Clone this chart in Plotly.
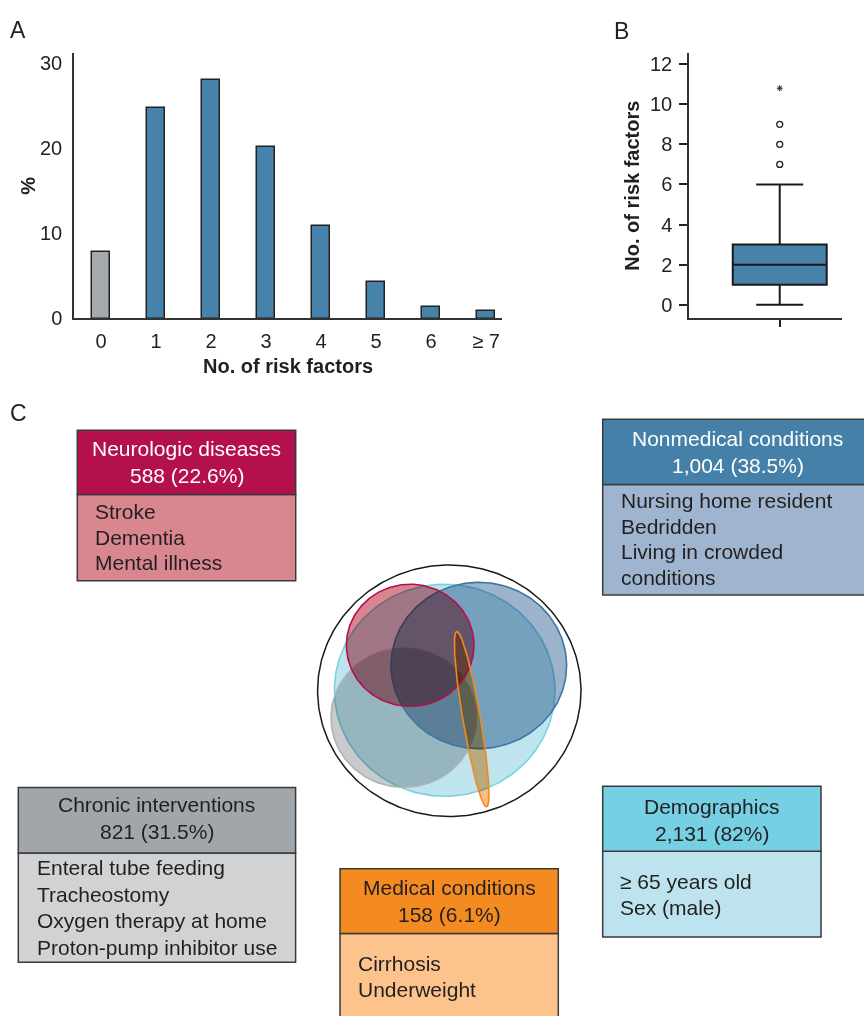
import numpy as np
import plotly.graph_objects as go

W, H = 864, 1016

# ---- Panel A: share of patients by number of risk factors ----
factor_labels = ["0", "1", "2", "3", "4", "5", "6", "≥ 7"]
factor_pct = [7.8, 24.7, 28.0, 20.2, 10.9, 4.3, 1.4, 0.9]

# ---- Panel B: number of risk factors per patient (box summary) ----
box_q1, box_median, box_q3 = 1, 2, 3
box_low, box_high = 0, 6
outlier_values = [7, 8, 9]
extreme_values = [10.8]

# ---- Panel C: risk factor groups ----
group_names = ["Neurologic diseases", "Nonmedical conditions", "Chronic interventions",
               "Medical conditions", "Demographics"]
group_counts = [588, 1004, 821, 158, 2131]
group_pcts = ["22.6", "38.5", "31.5", "6.1", "82"]
group_items = [
    ["Stroke", "Dementia", "Mental illness"],
    ["Nursing home resident", "Bedridden", "Living in crowded", "conditions"],
    ["Enteral tube feeding", "Tracheostomy", "Oxygen therapy at home", "Proton-pump inhibitor use"],
    ["Cirrhosis", "Underweight"],
    ["≥ 65 years old", "Sex (male)"],
]

FONT = "Liberation Sans, Arial, Helvetica, sans-serif"
INK = "#231f20"
BAR_BLUE = "#4682aa"
BAR_GRAY = "#a3a9ad"

# vertical layout height used for converting pixel positions to paper fractions
H_LAYOUT = H * 0.99


def px(x):
    return x / W


def py(y):
    return 1 - y / H_LAYOUT


fig = go.Figure()

# Panel A bars
bar_colors = [BAR_GRAY] + [BAR_BLUE] * (len(factor_pct) - 1)
fig.add_trace(go.Bar(
    x=list(range(len(factor_pct))), y=factor_pct, width=0.33,
    marker=dict(color=bar_colors, line=dict(color="#222", width=1.5)),
    xaxis="x", yaxis="y", hoverinfo="skip", showlegend=False,
))

# Panel B box
fig.add_trace(go.Box(
    x=[0], q1=[box_q1], median=[box_median], q3=[box_q3],
    lowerfence=[box_low], upperfence=[box_high],
    width=0.614, whiskerwidth=0.5, boxpoints=False,
    fillcolor=BAR_BLUE, line=dict(color="#1a1a1a", width=2),
    xaxis="x2", yaxis="y2", hoverinfo="skip", showlegend=False,
))
fig.add_trace(go.Scatter(
    x=[0] * len(outlier_values), y=outlier_values, mode="markers",
    marker=dict(symbol="circle-open", size=6, color="#222", line=dict(width=1.3)),
    xaxis="x2", yaxis="y2", hoverinfo="skip", showlegend=False,
))
fig.add_trace(go.Scatter(
    x=[0] * len(extreme_values), y=extreme_values, mode="markers",
    marker=dict(symbol="asterisk-open", size=5, color="#222", line=dict(width=1)),
    xaxis="x2", yaxis="y2", hoverinfo="skip", showlegend=False,
))

# Panel C overlap diagram: (cx, cy, rx, ry, tilt deg, fill, line) in diagram units.
# Fills are blended with "multiply" so overlaps darken like overprinted inks.
venn_shapes = [
    (444.7, 690.5, 110.3, 106.2, 0, "rgb(190,229,238)", "#7dd0e3"),   # demographics
    (403.8, 718.0, 72.8, 69.7, 0, "rgb(201,202,204)", "#b0b2b4"),     # chronic interventions
    (478.8, 665.7, 87.8, 83.3, 0, "rgb(157,179,204)", "#3f77a0"),     # nonmedical
    (410.2, 645.5, 63.8, 61.2, 0, "rgb(217,132,142)", "#b5104e"),     # neurologic
    (471.7, 719.5, 8.8, 89.1, -9.7, "rgb(249,190,134)", "#f28a1e"),   # medical
]
t = np.linspace(0, 2 * np.pi, 241)
for cx, cy, rx, ry, ang, fillc, linec in venn_shapes:
    a = np.deg2rad(ang)
    ex = rx * np.cos(t)
    ey = ry * np.sin(t)
    xs = cx + ex * np.cos(a) - ey * np.sin(a)
    ys = cy + ex * np.sin(a) + ey * np.cos(a)
    fig.add_trace(go.Scatter(
        x=xs, y=ys, mode="lines", fill="toself", fillcolor=fillc,
        line=dict(color=linec, width=1.6), xaxis="x3", yaxis="y3",
        hoverinfo="skip", showlegend=False,
    ))
# enclosing outline (all patients)
fig.add_trace(go.Scatter(
    x=449.3 + 131.7 * np.cos(t), y=691.0 + 126.0 * np.sin(t), mode="lines",
    line=dict(color="#1a1a1a", width=1.5), xaxis="x3", yaxis="y3",
    hoverinfo="skip", showlegend=False,
))

annotations = []
shapes = []


def add_text(x, y, text, size=21, color=INK, anchor="center", bold=False):
    annotations.append(dict(
        x=px(x), y=py(y), xref="paper", yref="paper", text=f"<b>{text}</b>" if bold else text,
        showarrow=False, xanchor=anchor, yanchor="middle",
        font=dict(family=FONT, size=size, color=color),
    ))


# Panel letters and axis titles
add_text(18, 29, "A", size=23)
add_text(621, 30, "B", size=23)
add_text(18, 413, "C", size=23)
add_text(288, 366, "No. of risk factors", size=20, bold=True)
annotations.append(dict(x=px(28), y=py(185), xref="paper", yref="paper", text="<b>%</b>",
                        showarrow=False, textangle=-90, xanchor="center", yanchor="middle",
                        font=dict(family=FONT, size=20, color=INK)))
annotations.append(dict(x=px(632), y=py(185), xref="paper", yref="paper",
                        text="<b>No. of risk factors</b>", showarrow=False, textangle=-90,
                        xanchor="center", yanchor="middle",
                        font=dict(family=FONT, size=20, color=INK)))

# Group boxes: (left, right, top, divider, bottom, header fill, body fill, header text colour,
#               body text left, header line centres, first body line centre, body line step)
box_layout = [
    (77.3, 295.7, 430.0, 494.3, 580.7, "#b5104e", "#d9878f", "white", 92.7, (448.3, 475.0), 511.7, 25.5),
    (602.7, 872.3, 419.0, 484.3, 595.0, "#4480a8", "#9fb5cf", "white", 619.3, (438.3, 465.0), 500.7, 25.6),
    (18.3, 295.6, 788.0, 853.5, 963.0, "#a0a6aa", "#d0d2d4", INK, 35.0, (805.3, 832.5), 868.5, 26.5),
    (340.0, 558.3, 869.3, 934.3, 1040.0, "#f48b21", "#fcc48c", INK, 356.0, (888.3, 915.0), 964.0, 26.0),
    (602.7, 821.0, 786.7, 851.7, 937.7, "#76d0e4", "#bde4ee", INK, 618.3, (806.7, 834.3), 881.7, 26.6),
]
for i, (l, r, top, mid, bot, hfill, bfill, hcol, tx, hys, by0, step) in enumerate(box_layout):
    shapes.append(dict(type="rect", xref="paper", yref="paper", x0=px(l), x1=px(r),
                       y0=py(mid), y1=py(bot), fillcolor=bfill,
                       line=dict(color="#3a3a3a", width=1.5), layer="above"))
    shapes.append(dict(type="rect", xref="paper", yref="paper", x0=px(l), x1=px(r),
                       y0=py(top), y1=py(mid), fillcolor=hfill,
                       line=dict(color="#3a3a3a", width=1.5), layer="above"))
    hx = (l + r) / 2
    add_text(hx, hys[0], group_names[i], color=hcol)
    add_text(hx, hys[1], f"{group_counts[i]:,} ({group_pcts[i]}%)", color=hcol)
    for k, item in enumerate(group_items[i]):
        add_text(tx, by0 + k * step, item, anchor="left")

axis_line = dict(showline=True, linecolor="#333", linewidth=1.5, showgrid=False, zeroline=False)
tick_font = dict(family=FONT, size=20, color=INK)

fig.update_layout(
    width=W, height=H, margin=dict(l=0, r=0, t=0, b=0),
    paper_bgcolor="white", plot_bgcolor="rgba(0,0,0,0)",
    showlegend=False, bargap=0,
    xaxis=dict(domain=[px(74), px(502)], range=[-0.49, 7.29], anchor="y",
               tickvals=list(range(len(factor_labels))), ticktext=factor_labels,
               ticks="", ticklabelstandoff=4, tickfont=tick_font, **axis_line),
    yaxis=dict(domain=[py(318), py(52)], range=[0, 31.2], anchor="x",
               tickvals=[0, 10, 20, 30], ticks="", ticklabelstandoff=6,
               tickfont=tick_font, **axis_line),
    xaxis2=dict(domain=[px(689), px(842)], range=[-0.593, 0.407], anchor="y2",
                tickvals=[0], ticks="outside", ticklen=7, tickwidth=1.5, tickcolor="#222",
                showticklabels=False, **axis_line),
    yaxis2=dict(domain=[py(318), py(52)], range=[-0.68, 12.56], anchor="x2",
                tickvals=list(range(0, 13, 2)), ticks="outside", ticklen=8, tickwidth=1.5,
                tickcolor="#222", ticklabelstandoff=3, tickfont=tick_font, **axis_line),
    xaxis3=dict(domain=[px(300), px(600)], range=[300, 600], anchor="y3", visible=False),
    yaxis3=dict(domain=[py(830), py(550)], range=[830, 550], anchor="x3", visible=False),
    annotations=annotations, shapes=shapes,
)

# overlapping group fills combine multiplicatively
blend_js = (
    "document.querySelectorAll('.scatterlayer path.js-fill').forEach(function(p){"
    "p.style.mixBlendMode='multiply';});"
)
fig.write_html("out.html", post_script=blend_js)
